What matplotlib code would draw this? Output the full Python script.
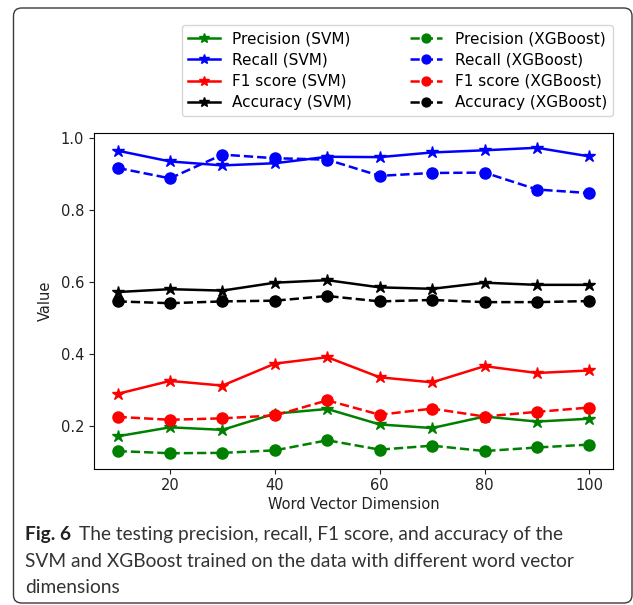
import matplotlib
matplotlib.use("Agg")
import matplotlib.pyplot as plt
from matplotlib.patches import FancyBboxPatch

plt.rcParams["font.family"] = ["DejaVu Sans"]

# размерность векторов слов
dims = [10, 20, 30, 40, 50, 60, 70, 80, 90, 100]

# SVM
precision_svm = [0.170, 0.195, 0.188, 0.233, 0.246, 0.203, 0.193, 0.225, 0.211, 0.219]
recall_svm = [0.964, 0.934, 0.923, 0.929, 0.947, 0.946, 0.959, 0.965, 0.972, 0.948]
f1_svm = [0.288, 0.324, 0.311, 0.372, 0.390, 0.334, 0.320, 0.365, 0.346, 0.353]
accuracy_svm = [0.571, 0.579, 0.575, 0.597, 0.604, 0.584, 0.580, 0.597, 0.591, 0.591]

# XGBoost
precision_xgb = [0.129, 0.123, 0.124, 0.131, 0.159, 0.133, 0.144, 0.129, 0.139, 0.147]
recall_xgb = [0.916, 0.887, 0.953, 0.943, 0.939, 0.894, 0.902, 0.903, 0.856, 0.846]
f1_xgb = [0.224, 0.216, 0.220, 0.228, 0.270, 0.230, 0.247, 0.225, 0.238, 0.250]
accuracy_xgb = [0.545, 0.540, 0.545, 0.547, 0.560, 0.545, 0.549, 0.543, 0.543, 0.546]

caption_bold = "Fig. 6"
caption_lines = ["The testing precision, recall, F1 score, and accuracy of the",
                 "SVM and XGBoost trained on the data with different word vector",
                 "dimensions"]

W, H = 633, 605
fig = plt.figure(figsize=(W / 100, H / 100), dpi=100)

# рамка вокруг рисунка
frame = FancyBboxPatch((13.5 / W, 1 - 603 / H), (632 - 13.5) / W, (603 - 8) / H,
                       boxstyle="round,pad=0,rounding_size=0.013",
                       transform=fig.transFigure, fill=False,
                       edgecolor="#3a3a3a", linewidth=1.0)
fig.patches.append(frame)

ax = fig.add_axes([94 / W, 1 - 468.5 / H, (613 - 94) / W, (468.5 - 132.5) / H])

lw = 1.8
ax.plot(dims, precision_svm, color="green", marker="*", ms=9, lw=lw, label="Precision (SVM)")
ax.plot(dims, recall_svm, color="blue", marker="*", ms=9, lw=lw, label="Recall (SVM)")
ax.plot(dims, f1_svm, color="red", marker="*", ms=9, lw=lw, label="F1 score (SVM)")
ax.plot(dims, accuracy_svm, color="black", marker="*", ms=9, lw=lw, label="Accuracy (SVM)")
ax.plot(dims, precision_xgb, color="green", marker="o", ms=8, lw=lw, ls="--", label="Precision (XGBoost)")
ax.plot(dims, recall_xgb, color="blue", marker="o", ms=8, lw=lw, ls="--", label="Recall (XGBoost)")
ax.plot(dims, f1_xgb, color="red", marker="o", ms=8, lw=lw, ls="--", label="F1 score (XGBoost)")
ax.plot(dims, accuracy_xgb, color="black", marker="o", ms=8, lw=lw, ls="--", label="Accuracy (XGBoost)")

ax.set_xticks([20, 40, 60, 80, 100])
ax.set_yticks([0.2, 0.4, 0.6, 0.8, 1.0])
ax.tick_params(labelsize=10.5, colors="#222222")
ax.set_xlabel("Word Vector Dimension", fontsize=10.5, color="#222222", labelpad=3)
ax.set_ylabel("Value", fontsize=10.5, color="#222222", labelpad=6)

fig.legend(loc="upper right", bbox_to_anchor=(613 / W, 1 - 25 / H), borderaxespad=0,
           ncol=2, fontsize=11, handlelength=2.1, columnspacing=3.8, labelspacing=0.42,
           markerscale=0.8)

# подпись
cap_font = ["Lato"]
renderer = fig.canvas.get_renderer()
probe = fig.text(0, 0, caption_lines[1], fontsize=10, family=cap_font)
cap_size = 10 * 551 / probe.get_window_extent(renderer).width
probe.remove()

x0 = 25 / W
t = fig.text(x0, 1 - 540 / H, caption_bold, fontsize=cap_size, fontweight="bold",
             family=cap_font, va="baseline", color="#222222")
bb = t.get_window_extent(renderer)
fig.text((bb.x1 + 8) / W, 1 - 540 / H, caption_lines[0], fontsize=cap_size,
         family=cap_font, va="baseline", color="#333333")
fig.text(x0, 1 - 567 / H, caption_lines[1], fontsize=cap_size,
         family=cap_font, va="baseline", color="#333333")
fig.text(x0, 1 - 593 / H, caption_lines[2], fontsize=cap_size,
         family=cap_font, va="baseline", color="#333333")

fig.savefig("out.png", dpi=100)
